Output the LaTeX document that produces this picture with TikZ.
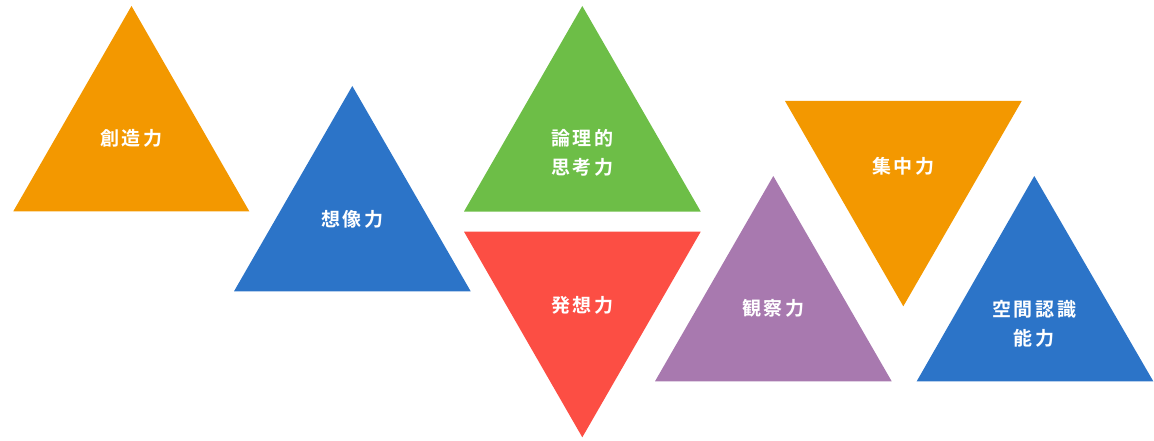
\documentclass[tikz,border=0pt]{standalone}
\usepackage{fontspec}
\newfontfamily\jp[LetterSpace=14,BoldFont={Noto Sans CJK JP Bold}]{Noto Sans CJK JP}
\definecolor{cOrange}{RGB}{243,152,0}
\definecolor{cBlue}{RGB}{44,116,200}
\definecolor{cGreen}{RGB}{109,190,71}
\definecolor{cRed}{RGB}{252,78,68}
\definecolor{cPurple}{RGB}{168,121,175}
\begin{document}
\begin{tikzpicture}[x=1pt,y=-1pt,
  lbl/.style={text=white,font=\jp\bfseries\fontsize{19}{29}\selectfont,align=center,inner sep=0pt}]
\useasboundingbox (0,0) rectangle (1154,441);
\fill[cOrange] (131.5,6) -- (13.3,211.3) -- (249.3,211.3) -- cycle;
\fill[cBlue] (352.3,86) -- (234,291.3) -- (470.7,291.3) -- cycle;
\fill[cGreen] (582.3,6) -- (464,211.5) -- (700.7,211.5) -- cycle;
\fill[cRed] (464,231.7) -- (700.7,231.7) -- (582.3,437.3) -- cycle;
\fill[cPurple] (773.3,176) -- (655,381.3) -- (891.7,381.3) -- cycle;
\fill[cOrange] (785,101) -- (1021.7,101) -- (903.3,306.3) -- cycle;
\fill[cBlue] (1034.3,176) -- (916.7,381.3) -- (1153.3,381.3) -- cycle;
\node[lbl] (t1) at (131.5,138.3) {創造力};
\node[lbl] (t2) at (352.3,219.3) {想像力};
\node[lbl] (t3) at (582.3,153.3) {論理的\\思考力};
\node[lbl] (t4) at (582.3,305) {発想力};
\node[lbl] (t5) at (773.3,308.3) {観察力};
\node[lbl] (t6) at (903.3,166.7) {集中力};
\node[lbl] (t7) at (1034.3,323.5) {空間認識\\能力};
\end{tikzpicture}
\end{document}
